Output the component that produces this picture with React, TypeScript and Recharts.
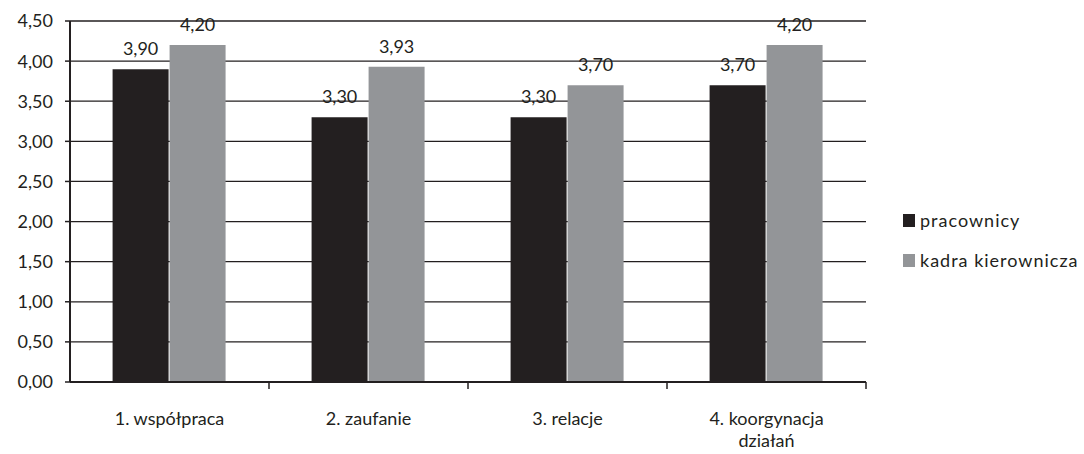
import { BarChart, Bar, XAxis, YAxis, CartesianGrid, LabelList } from "recharts";

// Survey averages per area, workers vs. management.
const categories = ["1. współpraca", "2. zaufanie", "3. relacje", "4. koorgynacja działań"];
const pracownicy = [3.9, 3.3, 3.3, 3.7];
const kadraKierownicza = [4.2, 3.93, 3.7, 4.2];
const yTicks = [0, 0.5, 1, 1.5, 2, 2.5, 3, 3.5, 4, 4.5];

const SERIES = [
  { key: "pracownicy", name: "pracownicy", color: "#231f20" },
  { key: "kadra", name: "kadra kierownicza", color: "#939598" },
];

const data = categories.map((name, i) => ({
  name,
  pracownicy: pracownicy[i],
  kadra: kadraKierownicza[i],
}));

const FONT = "Lato, 'Open Sans', sans-serif";
const INK = "#231f20";
const PLOT_LEFT = 70;
const PLOT_RIGHT = 866;

const fmt = (v: number) => v.toFixed(2).replace(".", ",");

// Excel-style category axis: labels centered, tick marks on the band edges.
function CategoryTick(props: any) {
  const { x, y, payload, index, visibleTicksCount } = props;
  const band = (PLOT_RIGHT - PLOT_LEFT) / categories.length;
  const lines: string[] =
    payload.value === "4. koorgynacja działań" ? ["4. koorgynacja", "działań"] : [payload.value];
  return (
    <g>
      {index > 0 && (
        <line x1={x - band / 2} y1={y - 8} x2={x - band / 2} y2={y - 1} stroke={INK} strokeWidth={1.5} />
      )}
      {index === visibleTicksCount - 1 && (
        <line x1={x + band / 2} y1={y - 8} x2={x + band / 2} y2={y - 1} stroke={INK} strokeWidth={1.5} />
      )}
      <text x={x} y={y + 35} textAnchor="middle" fontSize={18} fill={INK} fontFamily={FONT}>
        {lines.map((l, i) => (
          <tspan key={i} x={x} dy={i === 0 ? 0 : 22}>
            {l}
          </tspan>
        ))}
      </text>
    </g>
  );
}

function LegendBox() {
  return (
    <div
      style={{
        position: "absolute",
        left: 903,
        top: 200,
        fontFamily: FONT,
        fontSize: 18,
        letterSpacing: 1,
        color: INK,
        whiteSpace: "nowrap",
      }}
    >
      {SERIES.map((s) => (
        <div key={s.key} style={{ display: "flex", alignItems: "center", height: 40 }}>
          <span style={{ width: 12, height: 13, background: s.color, marginRight: 5 }} />
          <span>{s.name}</span>
        </div>
      ))}
    </div>
  );
}

export default function App() {
  return (
    <div style={{ position: "absolute", left: 0, top: 0, width: 1084, height: 454, background: "#fff" }}>
      <BarChart
        width={1084}
        height={454}
        data={data}
        margin={{ top: 21, right: 1084 - PLOT_RIGHT, bottom: 0, left: 0 }}
        barCategoryGap="21.4%"
        barGap={1}
      >
        <CartesianGrid vertical={false} stroke={INK} strokeWidth={1.3} />
        <XAxis
          dataKey="name"
          height={72}
          axisLine={{ stroke: INK, strokeWidth: 2 }}
          tickLine={false}
          tick={<CategoryTick />}
          interval={0}
        />
        <YAxis
          width={PLOT_LEFT}
          domain={[0, 4.5]}
          ticks={yTicks}
          tickFormatter={fmt}
          axisLine={{ stroke: INK, strokeWidth: 2 }}
          tickLine={{ stroke: INK, strokeWidth: 1.5 }}
          tickSize={5}
          tickMargin={12}
          tick={{ fontSize: 18, fill: INK, fontFamily: FONT }}
        />
        {SERIES.map((s) => (
          <Bar key={s.key} dataKey={s.key} name={s.name} fill={s.color} isAnimationActive={false}>
            <LabelList
              dataKey={s.key}
              position="top"
              offset={14}
              formatter={(v: any) => fmt(Number(v))}
              style={{ fontSize: 18, fill: INK, fontFamily: FONT }}
            />
          </Bar>
        ))}
      </BarChart>
      <LegendBox />
    </div>
  );
}
